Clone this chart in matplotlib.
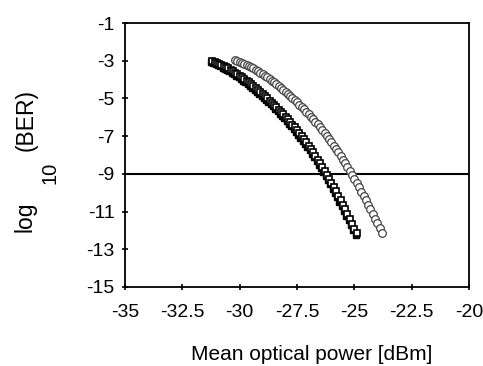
import matplotlib
matplotlib.use("Agg")
import matplotlib.pyplot as plt
import numpy as np

plt.rcParams['font.family'] = ['Liberation Sans', 'DejaVu Sans']

# receiver 1 (dark markers), 0.1 dB steps from -31.2 dBm
p1_start = -31.2
ber1 = [-3.00, -3.05, -3.10, -3.16, -3.22, -3.28, -3.34, -3.41, -3.48, -3.56,
        -3.64, -3.71, -3.80, -3.88, -3.97, -4.06, -4.15, -4.25, -4.35, -4.45,
        -4.56, -4.66, -4.77, -4.88, -4.99, -5.11, -5.23, -5.34, -5.46, -5.59,
        -5.72, -5.84, -5.97, -6.11, -6.25, -6.39, -6.54, -6.69, -6.84, -7.00,
        -7.16, -7.33, -7.50, -7.68, -7.86, -8.04, -8.24, -8.43, -8.63, -8.84,
        -9.04, -9.26, -9.48, -9.71, -9.93, -10.17, -10.40, -10.64, -10.88, -11.13,
        -11.38, -11.64, -11.90, -12.16]

# receiver 2 (open circles), 0.1 dB steps from -30.2 dBm
p2_start = -30.2
ber2 = [-2.96, -3.00, -3.05, -3.10, -3.16, -3.22, -3.28, -3.34, -3.41, -3.48,
        -3.56, -3.64, -3.71, -3.80, -3.88, -3.97, -4.06, -4.15, -4.25, -4.35,
        -4.45, -4.55, -4.65, -4.76, -4.87, -4.98, -5.10, -5.21, -5.33, -5.45,
        -5.57, -5.70, -5.83, -5.96, -6.10, -6.24, -6.38, -6.53, -6.68, -6.84,
        -7.00, -7.16, -7.33, -7.50, -7.68, -7.86, -8.05, -8.24, -8.44, -8.64,
        -8.85, -9.06, -9.27, -9.49, -9.71, -9.94, -10.17, -10.40, -10.64, -10.88,
        -11.12, -11.37, -11.62, -11.88, -12.14]

ber_limit = -9
xticks = [-35, -32.5, -30, -27.5, -25, -22.5, -20]
yticks = [-1, -3, -5, -7, -9, -11, -13, -15]

p1 = p1_start + 0.1 * np.arange(len(ber1))
p2 = p2_start + 0.1 * np.arange(len(ber2))

fig = plt.figure(figsize=(4.83, 3.66), dpi=100)
ax = fig.add_axes([0.259, 0.216, 0.712, 0.721])

ax.axhline(ber_limit, color='black', lw=1.5, zorder=1)
ax.plot(p2, ber2, 'o', ms=5.5, mfc='white', mec='#444444', mew=0.9, zorder=2)
# dark shadow under the first curve, as in the scan
ax.plot(p1 - 0.05, [v - 0.08 for v in ber1], 's', ms=5, mfc='black', mec='black', zorder=3)
ax.plot(p1, ber1, 's', ms=5, mfc='white', mec='black', mew=1.2, zorder=4)

ax.set_xlim(-35, -20)
ax.set_ylim(-15, -1)
ax.set_xticks(xticks)
ax.set_xticklabels([('%g' % v) for v in xticks])
ax.set_yticks(yticks)
ax.set_yticklabels([('%g' % v) for v in yticks])
ax.tick_params(direction='inout', length=5, width=1.2, labelsize=14)
ax.tick_params(axis='x', pad=10)
ax.tick_params(axis='y', pad=5)
for s in ax.spines.values():
    s.set_linewidth(1.3)

fig.text(0.646, 0.032, 'Mean optical power [dBm]', ha='center', va='center', fontsize=15)
fig.text(0.052, 0.408, 'log', rotation=90, ha='center', va='center', fontsize=16.5)
fig.text(0.104, 0.527, '10', rotation=90, ha='center', va='center', fontsize=14.5)
fig.text(0.055, 0.672, '(BER)', rotation=90, ha='center', va='center', fontsize=16.5)

fig.savefig('out.png', dpi=100)
